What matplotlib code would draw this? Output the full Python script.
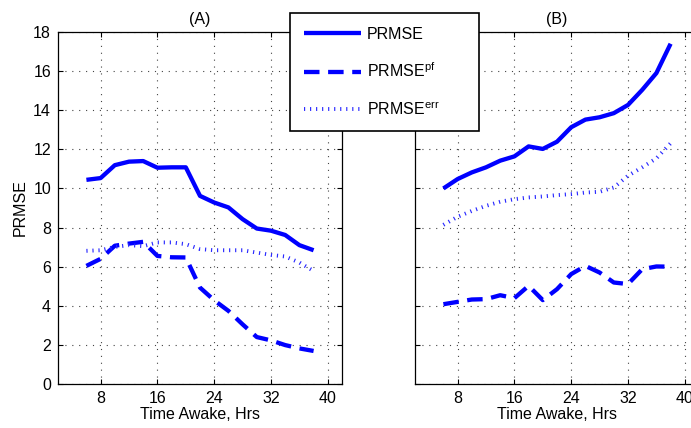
import matplotlib
matplotlib.use("Agg")
import matplotlib.pyplot as plt

plt.rcParams['font.family'] = ['Liberation Sans', 'DejaVu Sans']
plt.rcParams['mathtext.fontset'] = 'custom'
plt.rcParams['mathtext.rm'] = 'Liberation Sans'

hours = [6, 8, 10, 12, 14, 16, 18, 20, 22, 24, 26, 28, 30, 32, 34, 36, 38]

a_prmse = [10.44, 10.53, 11.19, 11.37, 11.40, 11.06, 11.08, 11.08, 9.62, 9.28,
           9.03, 8.43, 7.95, 7.84, 7.62, 7.10, 6.84]
a_pf = [6.04, 6.40, 7.07, 7.18, 7.27, 6.55, 6.48, 6.47, 4.93, 4.28,
        3.74, 3.05, 2.40, 2.23, 1.99, 1.82, 1.69]
a_err = [6.81, 6.84, 7.01, 7.10, 7.05, 7.24, 7.24, 7.15, 6.90, 6.84,
         6.84, 6.84, 6.72, 6.60, 6.52, 6.21, 5.78]

b_prmse = [10.00, 10.48, 10.82, 11.08, 11.42, 11.64, 12.15, 12.02, 12.39, 13.13,
           13.52, 13.64, 13.85, 14.27, 15.04, 15.90, 17.40]
b_pf = [4.08, 4.20, 4.32, 4.34, 4.54, 4.39, 5.02, 4.29, 4.85, 5.62,
        6.04, 5.70, 5.19, 5.11, 5.87, 6.01, 6.00]
b_err = [8.14, 8.55, 8.85, 9.11, 9.32, 9.45, 9.54, 9.59, 9.66, 9.71,
         9.79, 9.83, 10.05, 10.65, 11.08, 11.54, 12.31]

xticks = [8, 16, 24, 32, 40]
yticks = [0, 2, 4, 6, 8, 10, 12, 14, 16, 18]
labels = ['PRMSE', r'PRMSE$^{\mathrm{pf}}$', r'PRMSE$^{\mathrm{err}}$']
panels = ['(A)', '(B)']

W, H = 691, 428
fig = plt.figure(figsize=(W / 100, H / 100), dpi=100)

def px_axes(l, t, r, b):
    return fig.add_axes([l / W, 1 - b / H, (r - l) / W, (b - t) / H])

ax_a = px_axes(58, 32, 342, 384)
ax_b = px_axes(415, 32, 699, 384)

blue = '#0000ff'
for ax, (s, pf, er), title in zip([ax_a, ax_b],
                                  [(a_prmse, a_pf, a_err), (b_prmse, b_pf, b_err)],
                                  panels):
    ax.plot(hours, s, color=blue, lw=3.1, solid_joinstyle='round',
            solid_capstyle='butt', label=labels[0])
    ax.plot(hours, pf, color=blue, lw=3.1, dashes=(3.6, 2.0),
            dash_capstyle='butt', label=labels[1])
    ax.plot(hours, er, color='#2a2aff', lw=2.8, dashes=(0.3, 1.25),
            dash_capstyle='butt', label=labels[2])
    ax.set_xlim(2, 42)
    ax.set_ylim(0, 18)
    ax.set_xticks(xticks)
    ax.set_yticks(yticks)
    ax.grid(True, color='#444444', linestyle=(0, (1, 5.2)), linewidth=0.8)
    ax.tick_params(direction='in', length=3.5, width=0.8, top=True, right=True,
                   labelsize=11.5, colors='black', pad=5)
    for sp in ax.spines.values():
        sp.set_linewidth(0.9)
    ax.set_xlabel('Time Awake, Hrs', fontsize=11.5, labelpad=1)
    ax.set_title(title, fontsize=11.5, pad=6)

ax_b.tick_params(labelleft=False)
ax_a.set_ylabel('PRMSE', fontsize=11.5, labelpad=4)

handles, lbls = ax_a.get_legend_handles_labels()
leg = fig.legend(handles, lbls, loc='upper left',
                 bbox_to_anchor=(290 / W, 1 - 131 / H, 189 / W, 118 / H),
                 bbox_transform=fig.transFigure, mode='expand',
                 fontsize=11.5, frameon=True, fancybox=False,
                 edgecolor='black', framealpha=1, handlelength=3.6,
                 handletextpad=0.35, labelspacing=1.25, borderpad=0.85,
                 borderaxespad=0)
leg.get_frame().set_linewidth(1.2)
leg.set_zorder(10)

fig.savefig('out.png', dpi=100)
